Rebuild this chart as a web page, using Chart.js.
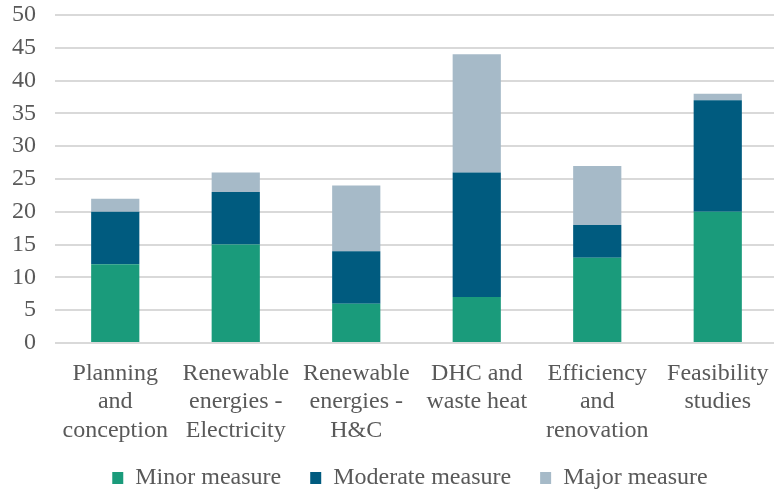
<!DOCTYPE html>
<html>
<head>
<meta charset="utf-8">
<script src="https://cdn.jsdelivr.net/npm/chart.js@4.4.1/dist/chart.umd.min.js"></script>
<style>
  html, body { margin: 0; padding: 0; background: #ffffff; overflow: hidden; }
  #wrap { width: 774px; height: 490px; overflow: hidden; }
  #c { display: block; }
</style>
</head>
<body>
<div id="wrap"><canvas id="c" width="778" height="490"></canvas></div>
<script>
// Project categories (multi-line labels)
const categories = [
  ['Planning', 'and', 'conception'],
  ['Renewable', 'energies -', 'Electricity'],
  ['Renewable', 'energies -', 'H&C'],
  ['DHC and', 'waste heat'],
  ['Efficiency', 'and', 'renovation'],
  ['Feasibility', 'studies']
];

// Number of measures per category
const minorMeasure    = [12, 15, 6, 7, 13, 20];
const moderateMeasure = [8, 8, 8, 19, 5, 17];
const majorMeasure    = [2, 3, 10, 18, 9, 1];

const seriesNames = ['Minor measure', 'Moderate measure', 'Major measure'];

const yTicksMax = 50;
const yTickStep = 5;

const textColor = '#595959';
const fontFamily = '"Liberation Serif", "Times New Roman", serif';
const fontSize = 24;

// Keeps the legend row compact and centred under the plot area
const legendLayout = {
  id: 'legendLayout',
  beforeUpdate(chart) {
    const lg = chart.legend;
    if (lg && !lg._compactFit) {
      const fit = lg.fit;
      lg.fit = function () { fit.call(this); this.height = 42; };
      lg._compactFit = true;
    }
  },
  afterLayout(chart) {
    const lg = chart.legend;
    if (lg) {
      lg.top = 437; lg.bottom = 490;
      lg.left += 21; lg.right += 21;
    }
  }
};

new Chart(document.getElementById('c'), {
  type: 'bar',
  data: {
    labels: categories,
    datasets: [
      { label: seriesNames[0], data: minorMeasure,    backgroundColor: '#1a9b7b' },
      { label: seriesNames[1], data: moderateMeasure, backgroundColor: '#005b7f' },
      { label: seriesNames[2], data: majorMeasure,    backgroundColor: '#a6bac8' }
    ]
  },
  options: {
    responsive: false,
    animation: false,
    devicePixelRatio: 1,
    layout: { padding: 0 },
    datasets: { bar: { categoryPercentage: 1.0, barPercentage: 0.4 } },
    scales: {
      x: {
        stacked: true,
        grid: { display: false, drawTicks: false },
        border: { display: false },
        ticks: { color: textColor, font: { family: fontFamily, size: fontSize }, padding: 16, maxRotation: 0, autoSkip: false },
        afterFit: (axis) => { axis.height = 105; axis.paddingLeft = 0; axis.paddingRight = 0; }
      },
      y: {
        stacked: true,
        min: 0,
        max: yTicksMax,
        grid: { color: '#d9d9d9', lineWidth: 2, drawTicks: false },
        border: { display: false },
        ticks: { stepSize: yTickStep, autoSkip: false, color: textColor, font: { family: fontFamily, size: fontSize }, padding: 19 },
        afterFit: (axis) => { axis.width = 55; axis.paddingTop = 15; axis.paddingBottom = 0; }
      }
    },
    plugins: {
      legend: {
        position: 'bottom',
        labels: {
          color: textColor,
          font: { family: fontFamily, size: fontSize },
          boxWidth: 11,
          boxHeight: 12,
          padding: 29
        }
      },
      tooltip: { enabled: false }
    }
  },
  plugins: [legendLayout]
});
</script>
</body>
</html>
